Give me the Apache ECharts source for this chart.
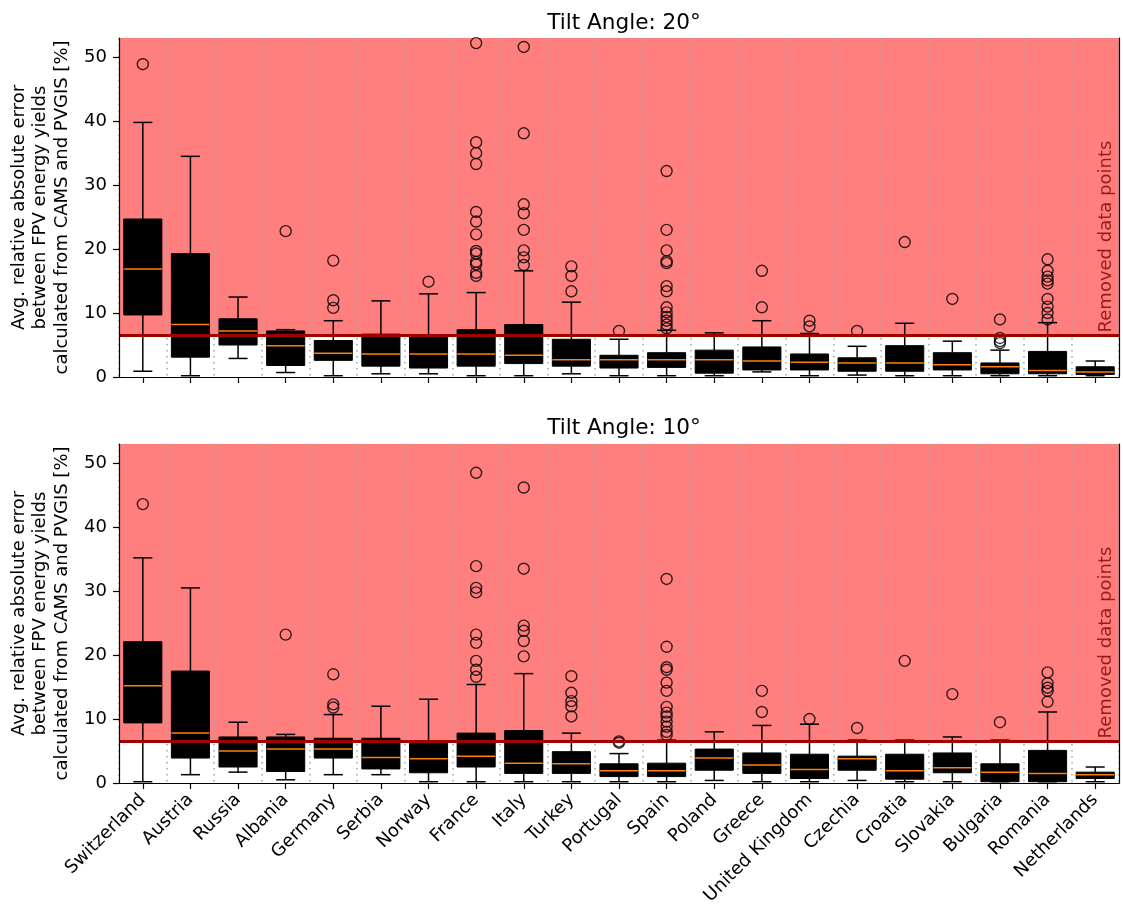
<!DOCTYPE html>
<html>
<head>
<meta charset="utf-8">
<script src="https://cdn.jsdelivr.net/npm/echarts@6/dist/echarts.min.js"></script>
<style>
  html, body { margin: 0; padding: 0; background: #fff; }
  #chart { width: 1123px; height: 916px; }
</style>
</head>
<body>
<div id="chart"></div>
<script>
// Countries, ordered as on the x axis
const countries = ['Switzerland', 'Austria', 'Russia', 'Albania', 'Germany', 'Serbia', 'Norway',
  'France', 'Italy', 'Turkey', 'Portugal', 'Spain', 'Poland', 'Greece', 'United Kingdom',
  'Czechia', 'Croatia', 'Slovakia', 'Bulgaria', 'Romania', 'Netherlands'];

// Y axis ticks and limits [%]
const yTicks = [0, 10, 20, 30, 40, 50];
const yMax = 53;
// Cut-off above which points were removed [%]
const threshold = 6.5;

// Tilt angle 20°: box statistics per country
const lowWhisker20 = [0.9, 0.2, 2.9, 0.7, 0.2, 0.5, 0.5, 0.2, 0.2, 0.5, 0.2, 0.2, 0.2, 0.8, 0.2, 0.3, 0.2, 0.2, 0.2, 0.2, 0.2];
const q1_20 = [9.7, 3.1, 5.0, 1.8, 2.6, 1.7, 1.4, 1.7, 2.1, 1.7, 1.4, 1.5, 0.6, 1.1, 1.1, 0.9, 0.9, 1.1, 0.5, 0.5, 0.4];
const median20 = [16.9, 8.2, 7.2, 4.9, 3.7, 3.6, 3.6, 3.6, 3.4, 2.7, 2.7, 2.7, 2.7, 2.5, 2.3, 2.2, 2.2, 1.9, 1.6, 1.0, 0.8];
const q3_20 = [24.7, 19.3, 9.1, 7.2, 5.7, 6.7, 6.4, 7.4, 8.2, 5.9, 3.4, 3.8, 4.2, 4.7, 3.6, 3.0, 4.9, 3.8, 2.2, 4.0, 1.6];
const highWhisker20 = [39.8, 34.5, 12.5, 7.4, 8.8, 11.9, 13.0, 13.2, 16.6, 11.7, 5.9, 7.3, 6.9, 8.8, 6.8, 4.8, 8.4, 5.6, 4.2, 8.5, 2.5];
const outliers20 = [
  [48.9], [], [], [22.8], [10.8, 12.0, 18.2], [], [14.9],
  [15.8, 16.3, 17.6, 18.0, 19.3, 19.7, 22.3, 24.3, 25.8, 33.3, 35.0, 36.7, 52.2],
  [17.5, 18.7, 19.8, 23.0, 25.6, 27.0, 38.1, 51.6],
  [13.4, 15.8, 17.3], [7.2],
  [7.6, 8.2, 8.8, 9.4, 10.1, 10.9, 13.4, 14.2, 17.8, 18.1, 19.8, 23.0, 32.2],
  [], [10.9, 16.6], [7.9, 8.8], [7.2], [21.1], [12.2], [5.3, 5.6, 6.1, 9.0],
  [9.0, 10.0, 11.0, 12.2, 14.6, 15.1, 15.7, 16.6, 18.4], []
];

// Tilt angle 10°: box statistics per country
const lowWhisker10 = [0.2, 1.3, 1.7, 0.5, 1.3, 1.3, 0.2, 0.2, 0.2, 0.2, 0.2, 0.2, 0.4, 0.2, 0.2, 0.4, 0.2, 0.2, 0.2, 0.2, 0.2];
const q1_10 = [9.4, 3.9, 2.5, 1.8, 3.9, 2.2, 1.6, 2.5, 1.5, 1.5, 1.0, 1.0, 2.0, 1.5, 0.7, 2.0, 0.6, 1.6, 0.2, 0.2, 0.7];
const median10 = [15.2, 7.8, 5.0, 5.3, 5.3, 4.0, 3.8, 4.2, 3.1, 3.0, 1.9, 1.9, 3.9, 2.8, 2.1, 3.8, 1.9, 2.4, 1.7, 1.5, 1.3];
const q3_10 = [22.1, 17.5, 7.2, 7.2, 7.0, 7.0, 6.5, 7.8, 8.2, 4.9, 3.0, 3.1, 5.3, 4.7, 4.5, 4.2, 4.5, 4.7, 3.0, 5.1, 1.7];
const highWhisker10 = [35.2, 30.5, 9.5, 7.6, 10.7, 12.0, 13.1, 15.4, 17.1, 7.8, 4.6, 6.7, 8.0, 9.0, 9.2, 6.7, 6.7, 7.2, 6.7, 11.1, 2.5];
const outliers10 = [
  [43.6], [], [], [23.2], [11.8, 12.3, 17.0], [], [],
  [16.6, 17.7, 19.1, 21.9, 23.2, 29.8, 30.5, 33.9, 48.5],
  [19.8, 22.2, 23.8, 24.6, 33.5, 46.2],
  [10.4, 12.0, 12.8, 14.1, 16.7], [6.3, 6.5],
  [7.5, 8.0, 8.8, 9.6, 10.4, 11.0, 11.9, 14.4, 15.7, 17.7, 18.1, 21.3, 31.9],
  [], [11.1, 14.4], [10.0], [8.6], [19.1], [13.9], [9.5],
  [12.7, 14.4, 14.9, 15.6, 17.3], []
];

const FONT = 'DejaVu Sans';
const TICK_SIZE = 18;

function boxRows(lo, q1, med, q3, hi) {
  return countries.map((c, i) => [i, lo[i], q1[i], med[i], q3[i], hi[i]]);
}
function outlierPoints(list) {
  const pts = [];
  list.forEach((vals, i) => vals.forEach(v => pts.push([i, v])));
  return pts;
}

// Box, whiskers, caps and median for one category
function renderBox(params, api) {
  const idx = api.value(0);
  const lo = api.coord([idx, api.value(1)]);
  const q1 = api.coord([idx, api.value(2)]);
  const md = api.coord([idx, api.value(3)]);
  const q3 = api.coord([idx, api.value(4)]);
  const hi = api.coord([idx, api.value(5)]);
  const band = api.size([1, 0])[0];
  const bw = band * 0.8;
  const cw = bw * 0.5;
  const cx = lo[0];
  const line = (x1, y1, x2, y2, color, w) => ({
    type: 'line',
    shape: { x1, y1, x2, y2 },
    style: { stroke: color, lineWidth: w }
  });
  return {
    type: 'group',
    children: [
      line(cx, lo[1], cx, q1[1], '#000', 1.5),
      line(cx, q3[1], cx, hi[1], '#000', 1.5),
      line(cx - cw / 2, lo[1], cx + cw / 2, lo[1], '#000', 1.5),
      line(cx - cw / 2, hi[1], cx + cw / 2, hi[1], '#000', 1.5),
      {
        type: 'rect',
        shape: { x: cx - bw / 2, y: q3[1], width: bw, height: q1[1] - q3[1] },
        style: { fill: '#000', stroke: '#000', lineWidth: 1 }
      },
      line(cx - bw / 2, md[1], cx + bw / 2, md[1], '#ff7f0e', 1.5)
    ]
  };
}

const panels = [
  { title: 'Tilt Angle: 20°', top: 38, titleTop: 7, showLabels: false,
    boxes: boxRows(lowWhisker20, q1_20, median20, q3_20, highWhisker20), outliers: outlierPoints(outliers20) },
  { title: 'Tilt Angle: 10°', top: 444, titleTop: 412, showLabels: true,
    boxes: boxRows(lowWhisker10, q1_10, median10, q3_10, highWhisker10), outliers: outlierPoints(outliers10) }
];

const option = {
  animation: false,
  backgroundColor: '#fff',
  textStyle: { fontFamily: FONT },
  title: panels.map(p => ({
    text: p.title, left: 619, top: p.titleTop, textAlign: 'center',
    textStyle: { fontFamily: FONT, fontSize: 21.6, fontWeight: 'normal', color: '#000' }
  })),
  grid: panels.map(p => ({ left: 119, width: 1000, top: p.top, height: 339, show: true, backgroundColor: '#fff', borderWidth: 0 })),
  xAxis: [],
  yAxis: [],
  series: []
};

panels.forEach((p, g) => {
  option.xAxis.push({
    type: 'category', gridIndex: g, data: countries, boundaryGap: true, z: 5,
    axisLine: { show: true, lineStyle: { color: '#000', width: 1.2 } },
    axisTick: { show: true, alignWithLabel: true, interval: 0, length: 6, lineStyle: { color: '#000', width: 1.2 } },
    axisLabel: { show: p.showLabels, interval: 0, rotate: 45, margin: 14, fontSize: TICK_SIZE, fontFamily: FONT, color: '#000' },
    splitLine: { show: true, interval: 0, lineStyle: { color: '#a8a8a8', width: 1.6, type: [1.6, 4.4] } }
  });
  option.xAxis.push({
    type: 'category', gridIndex: g, data: countries, position: 'top', z: 5,
    axisLine: { show: true, lineStyle: { color: '#000', width: 1.2 } },
    axisTick: { show: false }, axisLabel: { show: false }, splitLine: { show: false }
  });
  option.yAxis.push({
    type: 'value', gridIndex: g, min: 0, max: yMax, interval: 10, z: 5,
    name: 'Avg. relative absolute error\nbetween FPV energy yields\ncalculated from CAMS and PVGIS [%]',
    nameLocation: 'middle', nameRotate: 90, nameGap: 45,
    nameTextStyle: { fontFamily: FONT, fontSize: TICK_SIZE, lineHeight: 21.6, color: '#000', align: 'center' },
    axisLine: { show: true, lineStyle: { color: '#000', width: 1.2 } },
    axisTick: { show: true, length: 6, customValues: yTicks, lineStyle: { color: '#000', width: 1.2 } },
    axisLabel: { show: true, margin: 12, customValues: yTicks, fontSize: TICK_SIZE, fontFamily: FONT, color: '#000' },
    splitLine: { show: false }
  });
  option.yAxis.push({
    type: 'value', gridIndex: g, min: 0, max: yMax, position: 'right', z: 5,
    axisLine: { show: true, lineStyle: { color: '#000', width: 1.2 } },
    axisTick: { show: false }, axisLabel: { show: false }, splitLine: { show: false }
  });

  const xi = g * 2, yi = g * 2;
  // shaded region of removed points
  option.series.push({
    type: 'line', xAxisIndex: xi, yAxisIndex: yi, data: [], z: 1, silent: true,
    markArea: {
      silent: true,
      itemStyle: { color: '#ff7f7f' },
      data: [[{ yAxis: threshold }, { yAxis: yMax }]]
    }
  });
  // boxes
  option.series.push({
    type: 'custom', xAxisIndex: xi, yAxisIndex: yi, z: 2,
    renderItem: renderBox,
    encode: { x: 0, y: [1, 2, 3, 4, 5] },
    data: p.boxes
  });
  // outliers + cut-off line and its label
  option.series.push({
    type: 'scatter', xAxisIndex: xi, yAxisIndex: yi, z: 3,
    symbol: 'circle', symbolSize: 11,
    itemStyle: { color: 'rgba(0,0,0,0)', borderColor: '#000', borderWidth: 1.4 },
    data: p.outliers,
    markLine: {
      silent: true, symbol: 'none',
      label: { show: false },
      lineStyle: { color: '#a00000', width: 3, type: 'solid' },
      data: [{ yAxis: threshold }]
    },
    markPoint: {
      silent: true,
      symbol: 'circle', symbolSize: 0,
      data: [{
        coord: [countries.length - 1, threshold],
        label: {
          show: true, formatter: 'Removed data points', rotate: 90,
          position: [11, -3], align: 'left', verticalAlign: 'middle',
          fontFamily: FONT, fontSize: TICK_SIZE, color: '#9a1a1a'
        }
      }]
    }
  });
});

const chart = echarts.init(document.getElementById('chart'), null, { renderer: 'canvas' });
chart.setOption(option);
</script>
</body>
</html>
